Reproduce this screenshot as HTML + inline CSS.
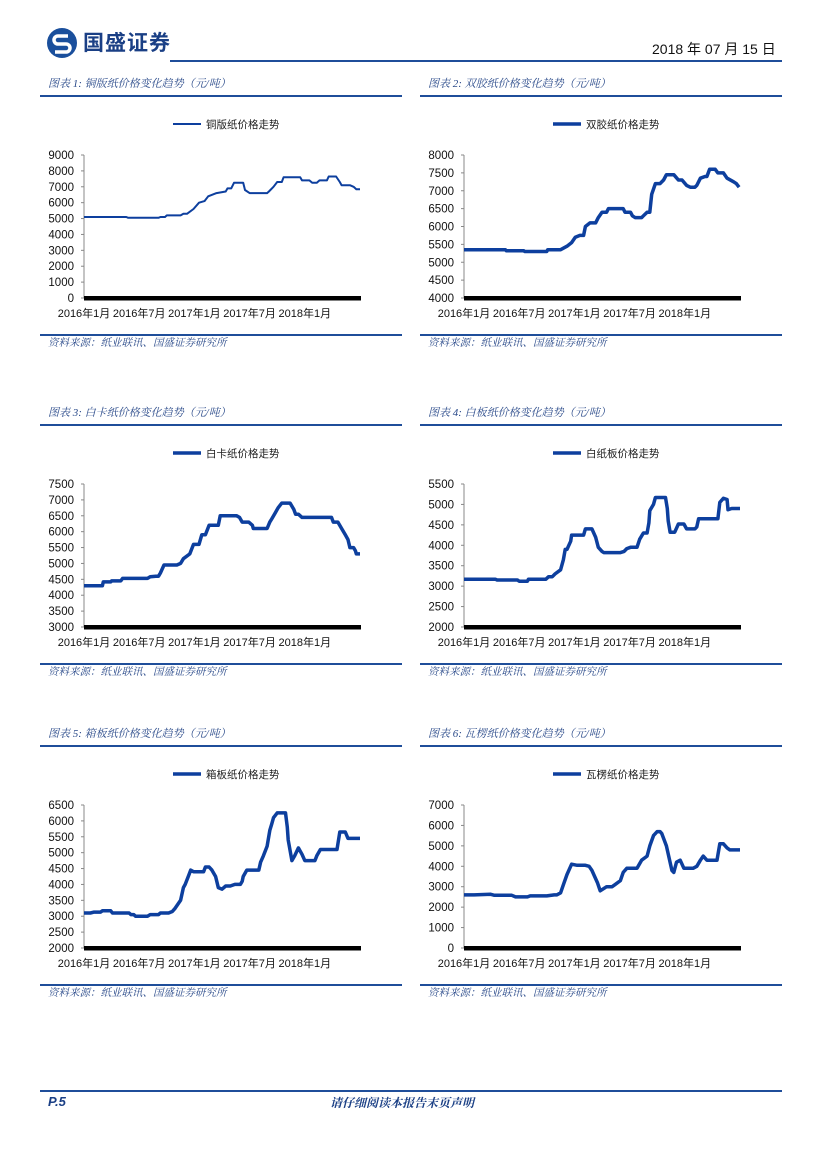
<!DOCTYPE html>
<html><head><meta charset="utf-8"><style>
body{margin:0;background:#fff;}
#page{position:relative;width:827px;height:1169px;overflow:hidden;font-family:"Liberation Sans","Noto Sans CJK SC",sans-serif;}
.abs{position:absolute;}
.ttl{font-family:"Liberation Serif","Noto Serif CJK SC",serif;font-style:italic;font-size:11px;color:#2a4a8a;white-space:nowrap;}
.rule{position:absolute;height:1.5px;background:#1f4e9a;}
svg text{font-family:"Liberation Sans","Noto Sans CJK SC",sans-serif;}
</style></head><body><div id="page">
<div class="abs" style="left:46px;top:27px;width:32px;height:32px;">
<svg width="32" height="32" viewBox="0 0 32 32"><circle cx="16" cy="16" r="15" fill="#1a4f9c"/><path d="M22 9 H12 a4 4 0 0 0 0 8 h8 a4 4 0 0 1 0 8 H9" stroke="#fff" stroke-width="3.5" fill="none"/></svg></div>
<div class="abs" style="left:83px;top:27px;font-size:21px;font-weight:bold;color:#1a3f85;font-family:'Noto Sans CJK SC',sans-serif;letter-spacing:1px;">国盛证券</div>
<div class="abs" style="left:652px;top:39px;font-size:14px;color:#111;">2018 年 07 月 15 日</div>
<div class="rule" style="left:170px;top:60px;width:612px;"></div>
<div class="rule" style="left:40px;top:1090px;width:742px;"></div>
<div class="abs" style="left:48px;top:1094px;font-size:13px;font-weight:bold;font-style:italic;color:#1a3f85;">P.5</div>
<div class="abs" style="left:330px;top:1094px;font-size:12px;font-weight:bold;font-style:italic;color:#1a3f85;font-family:'Noto Serif CJK SC',serif;">请仔细阅读本报告末页声明</div>
<div id="charts"></div>
</div>
<script>
// categories: month index from 2016-01 (0) to 2018-07 (30)
const xTickLabels = ["2016年1月","2016年7月","2017年1月","2017年7月","2018年1月"];
const xTickMonths = [0,6,12,18,24];
const titles = ["图表 1:  铜版纸价格变化趋势（元/吨）","图表 2:  双胶纸价格变化趋势（元/吨）","图表 3:  白卡纸价格变化趋势（元/吨）","图表 4:  白板纸价格变化趋势（元/吨）","图表 5:  箱板纸价格变化趋势（元/吨）","图表 6:  瓦楞纸价格变化趋势（元/吨）"];
const seriesNames = ["铜版纸价格走势","双胶纸价格走势","白卡纸价格走势","白纸板价格走势","箱板纸价格走势","瓦楞纸价格走势"];
const yMins = [0,4000,3000,2000,2000,0];
const yMaxs = [9000,8000,7500,5500,6500,7000];
const ySteps = [1000,500,500,500,500,1000];
const m1 = [0,4.6,4.8,8.1,8.3,8.8,9,10.5,10.8,11.2,11.9,12.5,13.1,13.5,14.4,15.4,15.6,16.0,16.3,17.3,17.5,18.0,19.9,20.1,20.6,21.0,21.5,21.7,23.5,23.7,24.5,24.8,25.3,25.6,26.4,26.6,27.4,27.8,28.0,28.9,29.3,29.6,30];
const v1 = [5100,5100,5050,5050,5100,5100,5200,5200,5300,5300,5600,6000,6100,6400,6600,6700,6900,6900,7250,7250,6800,6600,6600,6700,7000,7300,7300,7600,7600,7400,7400,7250,7250,7400,7400,7650,7650,7300,7100,7100,7000,6850,6850];
const m2 = [0,4.5,4.6,6.5,6.6,9.0,9.1,10.5,11.2,11.7,12.1,12.6,13.0,13.2,13.7,14.3,14.6,15.0,15.5,15.7,17.3,17.5,18.1,18.3,18.6,19.3,19.5,19.9,20.2,20.4,20.8,21.3,21.7,22.0,22.8,23.3,23.7,24.2,24.6,25.1,25.3,25.7,26.2,26.4,26.7,27.3,27.6,28.2,28.6,29.3,29.6,29.9];
const v2 = [5350,5350,5320,5320,5300,5300,5350,5350,5450,5550,5700,5750,5750,6000,6100,6100,6250,6400,6400,6500,6500,6400,6400,6300,6250,6250,6300,6400,6400,6900,7200,7200,7300,7450,7450,7300,7300,7150,7100,7100,7150,7350,7400,7400,7600,7600,7500,7500,7350,7250,7200,7100];
const m3 = [0,2.0,2.1,2.9,3.0,4.0,4.2,6.9,7.2,7.8,8.1,8.3,8.7,10.1,10.5,10.8,11.5,11.9,12.5,12.8,13.2,13.6,14.6,14.8,16.6,16.9,17.2,17.9,18.3,18.4,19.9,20.2,20.4,20.8,21.1,21.5,22.4,22.8,23.0,23.3,23.7,26.9,27.1,27.6,28.0,28.4,28.7,28.9,29.3,29.5,29.6,30];
const v3 = [4300,4300,4420,4420,4450,4450,4530,4530,4580,4600,4600,4700,4950,4950,5000,5150,5300,5600,5600,5900,5900,6200,6200,6500,6500,6450,6300,6300,6200,6100,6100,6300,6400,6600,6750,6900,6900,6700,6550,6550,6450,6450,6300,6300,6100,5900,5750,5500,5500,5400,5300,5300];
const m4 = [0,3.4,3.6,5.8,6.0,6.9,7.0,8.9,9.2,9.6,9.9,10.5,10.8,11.0,11.2,11.6,11.7,13.0,13.2,13.9,14.3,14.6,15.0,15.2,17.0,17.4,17.7,18.1,18.8,19.1,19.5,19.9,20.1,20.2,20.6,20.8,21.9,22.1,22.2,22.4,22.9,23.3,23.9,24.2,25.1,25.3,25.5,27.6,27.8,28.2,28.6,28.7,29.1,30];
const v4 = [3170,3170,3150,3150,3120,3120,3170,3170,3230,3230,3300,3400,3650,3900,3900,4100,4250,4250,4400,4400,4200,3950,3850,3820,3820,3850,3920,3950,3950,4150,4300,4300,4550,4850,5000,5170,5170,4900,4600,4320,4320,4520,4520,4400,4400,4450,4650,4650,5050,5150,5120,4870,4900,4900];
const m5 = [0,0.7,1.1,1.8,2.0,2.9,3.1,4.9,5.1,5.4,5.6,6.9,7.2,8.1,8.3,9.2,9.6,9.9,10.5,10.8,11.0,11.4,11.6,11.9,13.0,13.2,13.6,13.9,14.3,14.6,15.0,15.4,15.9,16.4,17.0,17.2,17.3,17.7,19.0,19.2,19.5,19.9,20.2,20.4,20.6,21.0,21.9,22.1,22.2,22.6,22.9,23.3,23.7,24.0,25.1,25.3,25.7,27.5,27.8,28.4,28.7,30];
const v5 = [3100,3100,3130,3130,3170,3170,3100,3100,3050,3050,3000,3000,3050,3050,3100,3100,3150,3250,3500,3900,4000,4300,4450,4400,4400,4550,4550,4450,4250,3900,3850,3950,3950,4000,4000,4100,4250,4450,4450,4700,4900,5200,5700,5900,6100,6250,6250,5800,5400,4750,4900,5150,4950,4750,4750,4900,5100,5100,5650,5650,5450,5450];
const m6 = [0,1.1,2.9,3.3,5.2,5.6,6.9,7.2,9.0,9.8,10.1,10.5,10.8,11.2,11.7,12.3,13.2,13.6,13.9,14.5,14.8,15.5,16.1,16.4,17.0,17.3,17.7,18.8,19.3,19.9,20.2,20.6,21.0,21.3,21.5,22.0,22.6,22.8,23.1,23.5,23.9,24.9,25.3,25.7,26.0,26.4,27.5,27.8,28.2,28.6,28.9,30];
const v6 = [2600,2600,2630,2580,2580,2500,2500,2550,2550,2600,2600,2700,3100,3600,4100,4050,4050,4000,3800,3200,2800,3000,3000,3100,3300,3700,3900,3900,4300,4500,5000,5500,5700,5700,5600,5000,3800,3700,4200,4300,3900,3900,4000,4300,4500,4300,4300,5100,5100,4900,4800,4800];
const allM = [m1,m2,m3,m4,m5,m6];
const allV = [v1,v2,v3,v4,v5,v6];

const NS = "http://www.w3.org/2000/svg";
const host = document.getElementById('charts');
const rowOff = [0,329,650];
for (let i = 0; i < 6; i++) {
  const col = i % 2, row = Math.floor(i / 2);
  const ox = col ? 420 : 40, oy = rowOff[row];
  const t = document.createElement('div');
  t.className = 'abs ttl';
  t.style.left = (ox + 8) + 'px'; t.style.top = (75 + oy) + 'px';
  t.textContent = titles[i];
  
  
  host.appendChild(t);
  const r1 = document.createElement('div');
  r1.className = 'rule'; r1.style.left = ox + 'px'; r1.style.width = '362px'; r1.style.top = (95 + oy) + 'px';
  
  
  host.appendChild(r1);
  const r2 = document.createElement('div');
  r2.className = 'rule'; r2.style.left = ox + 'px'; r2.style.width = '362px'; r2.style.top = (334 + oy) + 'px';
  
  
  host.appendChild(r2);
  const s = document.createElement('div');
  s.className = 'abs ttl'; s.style.left = (ox + 8) + 'px'; s.style.top = (335 + oy) + 'px'; s.style.fontSize = '10.5px';
  s.textContent = '资料来源：纸业联讯、国盛证券研究所';
  
  
  host.appendChild(s);

  const svg = document.createElementNS(NS, 'svg');
  svg.setAttribute('width', 380); svg.setAttribute('height', 220);
  svg.style.position = 'absolute'; svg.style.left = ox + 'px'; svg.style.top = (110 + oy) + 'px';
  
  
  host.appendChild(svg);
  const X0 = 44, X1 = 320, YT = 45, YB = 188;
  const xs = m => X0 + (X1 - X0) * m / 30;
  const ys = v => YB - (YB - YT) * (v - yMins[i]) / (yMaxs[i] - yMins[i]);
  const mk = (tag, at) => { const e = document.createElementNS(NS, tag); for (const k in at) e.setAttribute(k, at[k]); svg.appendChild(e); return e; };
  // legend
  const lg = mk('line', {x1:133, x2:161, y1:14, y2:14, stroke:'#0d3f9e', 'stroke-width': i ? 3.5 : 2});
  
  
  const lt = mk('text', {x:166, y:18, 'font-size':10.5, fill:'#222'});
  lt.textContent = seriesNames[i];
  
  
  // y axis
  const ya = mk('line', {x1:X0, x2:X0, y1:YT, y2:YB, stroke:'#888', 'stroke-width':1});
  
  
  for (let v = yMins[i]; v <= yMaxs[i] + 0.1; v += ySteps[i]) {
    const y = ys(v);
    mk('line', {x1:X0 - 3, x2:X0, y1:y, y2:y, stroke:'#888', 'stroke-width':1});
    const tx = mk('text', {x:X0 - 10, y:y + 4, 'font-size':11.5, 'text-anchor':'end', fill:'#111'});
    tx.textContent = v;
    
    
  }
  const xa = mk('rect', {x:X0, y:YB - 2, width:X1 - X0 + 1, height:4.5, fill:'#000'});
  
  
  xTickLabels.forEach((lab, k) => {
    const tx = mk('text', {x:xs(xTickMonths[k]), y:YB + 19, 'font-size':11, 'text-anchor':'middle', fill:'#111'});
    tx.textContent = lab;
    
    
  });
  const pts = allM[i].map((m, k) => xs(m).toFixed(1) + ',' + ys(allV[i][k]).toFixed(1)).join(' ');
  const pl = mk('polyline', {points:pts, fill:'none', stroke:'#0d3f9e', 'stroke-width': i ? 3.5 : 2, 'stroke-linejoin':'round'});
  
  
}
</script></body></html>
